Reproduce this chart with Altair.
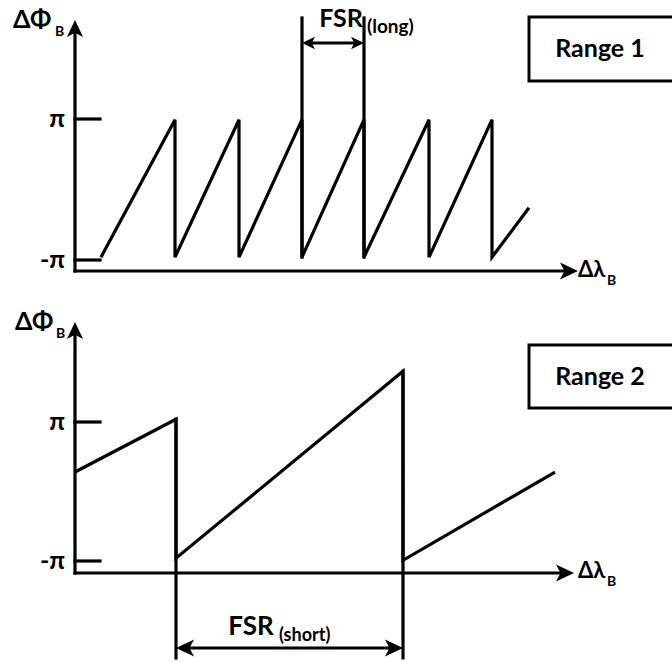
import altair as alt
import pandas as pd

FONT = "Lato, 'Open Sans', 'DejaVu Sans', sans-serif"

# ---------------- Range 1 panel (x: delta-lambda a.u. from origin, y: phase in units of pi) ----------
saw1_x = [26, 100, 100, 164, 164, 227, 227, 289, 289, 354, 354, 417, 417, 454]
saw1_y = [-0.96, 0.99, -0.96, 0.99, -0.96, 0.99, -0.96, 0.99, -0.96, 0.99, -0.96, 0.99, -0.96, -0.26]

seg1_x1 = [0, 0, 0, 0, 227, 289, 235]
seg1_y1 = [-1.156, -1.156, 1.0, -1.0, -0.96, -0.96, 2.078]
seg1_x2 = [0, 491, 25, 25, 227, 289, 281]
seg1_y2 = [2.234, -1.156, 1.0, -1.0, 2.433, 2.433, 2.078]

head1_x = [0, 503, 227, 289]
head1_y = [2.404, -1.156, 2.078, 2.078]
head1_ang = [270, 0, 180, 0]
head1_len = [17, 18, 13, 13]

txt1 = ["ΔΦ", "B", "π", "-π", "FSR", "(long)", "Δλ", "B", "Range 1"]
txt1_x = [-62, -20, -10, -10, 266, 292, 503, 532, 525]
txt1_y = [2.291, 2.177, 1.0, -1.0, 2.305, 2.22, -1.241, -1.355, 1.993]
txt1_size = [25, 14, 25, 25, 25, 19, 22, 14, 25]
txt1_pos = ["la", "la", "rm", "rm", "ca", "la", "la", "la", "cm"]

box1 = [454, 2.447, 600, 1.539]

# ---------------- Range 2 panel ----------------
saw2_x = [0, 101, 101, 328, 328, 480]
saw2_y = [0.28, 1.04, -0.96, 1.73, -0.99, 0.28]

seg2_x1 = [0, 0, 0, 0, 101, 328, 111]
seg2_y1 = [-1.173, -1.173, 1.0, -1.0, 1.04, 1.73, -2.252]
seg2_x2 = [0, 487, 25, 25, 101, 328, 318]
seg2_y2 = [2.266, -1.173, 1.0, -1.0, -2.396, -2.396, -2.252]

head2_x = [0, 499, 101, 328]
head2_y = [2.439, -1.173, -2.252, -2.252]
head2_ang = [270, 0, 180, 0]
head2_len = [17, 18, 18, 18]

txt2 = ["ΔΦ", "B", "π", "-π", "FSR", "(short)", "Δλ", "B", "Range 2"]
txt2_x = [-60, -19, -10, -10, 176, 204, 503, 532, 525]
txt2_y = [2.324, 2.209, 1.0, -1.0, -2.065, -2.155, -1.245, -1.36, 1.647]
txt2_size = [25, 14, 25, 25, 26, 18, 22, 14, 25]
txt2_pos = ["la", "la", "rm", "rm", "ca", "la", "la", "la", "cm"]

box2 = [454, 2.108, 600, 1.201]

# ---------------- layout ----------------
W, H = 672, 331
XDOM = [-75, 597]
ARROW = "M0,0L-2,-0.95L-1.5,0L-2,0.95Z"
POS = {"la": ("left", "alphabetic"), "rm": ("right", "middle"),
       "ca": ("center", "alphabetic"), "cm": ("center", "middle")}


def panel(sx, sy, x1, y1, x2, y2, hx, hy, ha, hl, tt, tx, ty, ts, tp, box, zero_px, px_per_unit):
    ydom = [(zero_px - H) / px_per_unit, zero_px / px_per_unit]
    xs = alt.Scale(domain=XDOM, nice=False, zero=False)
    ys = alt.Scale(domain=ydom, nice=False, zero=False)

    def X(f):
        return alt.X(f, type="quantitative", scale=xs, axis=None)

    def Y(f):
        return alt.Y(f, type="quantitative", scale=ys, axis=None)

    bdf = pd.DataFrame({"x1": [box[0]], "y1": [box[1]], "x2": [box[2]], "y2": [box[3]]})
    box_l = alt.Chart(bdf).mark_rect(fill="white", stroke="black", strokeWidth=3, clip=True).encode(
        x=X("x1"), x2="x2:Q", y=Y("y1"), y2="y2:Q")

    sdf = pd.DataFrame({"x": sx, "y": sy, "i": list(range(len(sx)))})
    saw_l = alt.Chart(sdf).mark_line(color="black", strokeWidth=3.2, strokeJoin="miter").encode(
        x=X("x"), y=Y("y"), order="i:Q")

    gdf = pd.DataFrame({"x1": x1, "y1": y1, "x2": x2, "y2": y2})
    seg_l = alt.Chart(gdf).mark_rule(color="black", strokeWidth=3.2, strokeCap="square").encode(
        x=X("x1"), y=Y("y1"), x2="x2:Q", y2="y2:Q")

    hdf = pd.DataFrame({"x": hx, "y": hy, "a": ha, "s": [v * v for v in hl]})
    head_l = alt.Chart(hdf).mark_point(shape=ARROW, filled=True, fill="black", opacity=1,
                                       strokeWidth=0).encode(
        x=X("x"), y=Y("y"), angle=alt.Angle("a:Q", scale=None), size=alt.Size("s:Q", scale=None))

    layers = [box_l, saw_l, seg_l, head_l]
    tdf = pd.DataFrame({"t": tt, "x": tx, "y": ty, "s": ts, "p": tp})
    for key, (al, bl) in POS.items():
        sub = tdf[tdf.p == key]
        if len(sub) == 0:
            continue
        layers.append(alt.Chart(sub).mark_text(align=al, baseline=bl, font=FONT, fontWeight="bold",
                                               color="black").encode(
            x=X("x"), y=Y("y"), text="t:N", size=alt.Size("s:Q", scale=None)))
    return alt.layer(*layers).properties(width=W, height=H)


top = panel(saw1_x, saw1_y, seg1_x1, seg1_y1, seg1_x2, seg1_y2, head1_x, head1_y, head1_ang, head1_len,
            txt1, txt1_x, txt1_y, txt1_size, txt1_pos, box1, 189.5, 70.5)
bottom = panel(saw2_x, saw2_y, seg2_x1, seg2_y1, seg2_x2, seg2_y2, head2_x, head2_y, head2_ang, head2_len,
               txt2, txt2_x, txt2_y, txt2_size, txt2_pos, box2, 160.5, 69.5)

chart = alt.vconcat(top, bottom, spacing=0, bounds="flush", padding=0).configure_view(stroke=None)
chart = chart.properties(background="white")
chart.save("out.html", embed_options={"renderer": "svg", "actions": False})
